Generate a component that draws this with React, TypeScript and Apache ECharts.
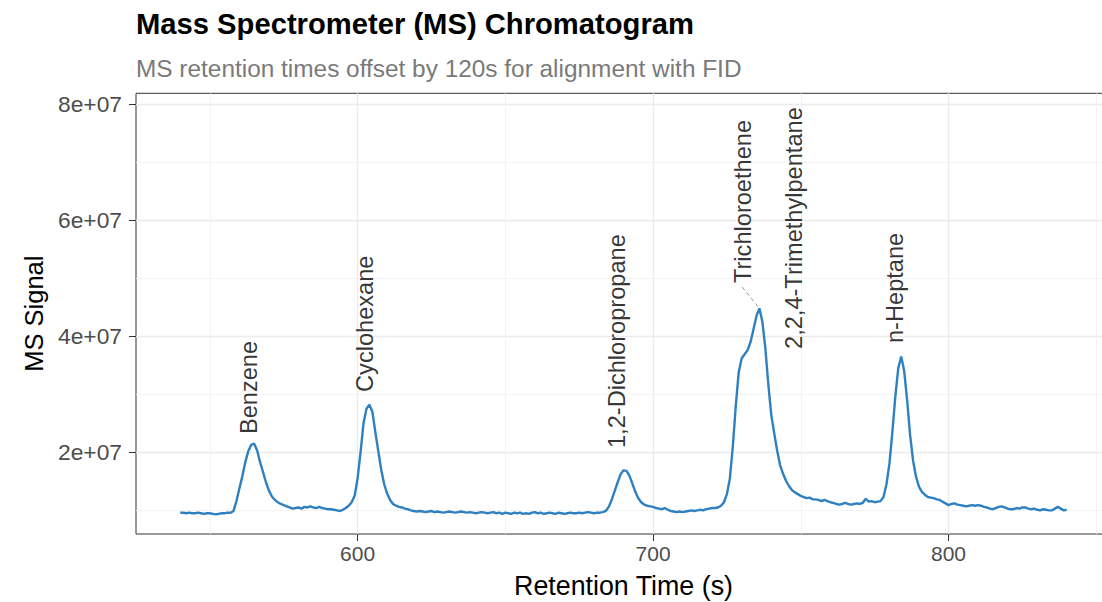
import React, { useEffect, useRef } from "react";
import * as echarts from "echarts";

// Retention time (s) and MS signal (counts)
const retentionTime = [
  540, 541, 542, 543, 544, 545, 546, 547, 548, 549,
  550, 551, 552, 553, 554, 555, 556, 557, 558, 559,
  560, 561, 562, 563, 564, 565, 566, 567, 568, 569,
  570, 571, 572, 573, 574, 575, 576, 577, 578, 579,
  580, 581, 582, 583, 584, 585, 586, 587, 588, 589,
  590, 591, 592, 593, 594, 595, 596, 597, 598, 599,
  600, 601, 602, 603, 604, 605, 606, 607, 608, 609,
  610, 611, 612, 613, 614, 615, 616, 617, 618, 619,
  620, 621, 622, 623, 624, 625, 626, 627, 628, 629,
  630, 631, 632, 633, 634, 635, 636, 637, 638, 639,
  640, 641, 642, 643, 644, 645, 646, 647, 648, 649,
  650, 651, 652, 653, 654, 655, 656, 657, 658, 659,
  660, 661, 662, 663, 664, 665, 666, 667, 668, 669,
  670, 671, 672, 673, 674, 675, 676, 677, 678, 679,
  680, 681, 682, 683, 684, 685, 686, 687, 688, 689,
  690, 691, 692, 693, 694, 695, 696, 697, 698, 699,
  700, 701, 702, 703, 704, 705, 706, 707, 708, 709,
  710, 711, 712, 713, 714, 715, 716, 717, 718, 719,
  720, 721, 722, 723, 724, 725, 726, 727, 728, 729,
  730, 731, 732, 733, 734, 735, 736, 737, 738, 739,
  740, 741, 742, 743, 744, 745, 746, 747, 748, 749,
  750, 751, 752, 753, 754, 755, 756, 757, 758, 759,
  760, 761, 762, 763, 764, 765, 766, 767, 768, 769,
  770, 771, 772, 773, 774, 775, 776, 777, 778, 779,
  780, 781, 782, 783, 784, 785, 786, 787, 788, 789,
  790, 791, 792, 793, 794, 795, 796, 797, 798, 799,
  800, 801, 802, 803, 804, 805, 806, 807, 808, 809,
  810, 811, 812, 813, 814, 815, 816, 817, 818, 819,
  820, 821, 822, 823, 824, 825, 826, 827, 828, 829,
  830, 831, 832, 833, 834, 835, 836, 837, 838, 839,
  840,
];

const msSignal = [
  9.6e6, 9.6e6, 9.5e6, 9.6e6, 9.5e6, 9.5e6, 9.6e6, 9.5e6, 9.4e6, 9.5e6,
  9.5e6, 9.4e6, 9.3e6, 9.4e6, 9.5e6, 9.5e6, 9.6e6, 9.6e6, 9.9e6, 11.6e6,
  13.8e6, 15.9e6, 18.3e6, 20.2e6, 21.3e6, 21.5e6, 20.3e6, 18.3e6, 16.6e6, 14.8e6,
  13.4e6, 12.4e6, 11.8e6, 11.4e6, 11.1e6, 10.9e6, 10.7e6, 10.5e6, 10.3e6, 10.4e6,
  10.5e6, 10.3e6, 10.6e6, 10.5e6, 10.7e6, 10.5e6, 10.4e6, 10.6e6, 10.4e6, 10.3e6,
  10.2e6, 10.2e6, 10.1e6, 10.0e6, 9.9e6, 10.1e6, 10.4e6, 10.8e6, 11.4e6, 12.5e6,
  15.5e6, 20.0e6, 25.0e6, 27.5e6, 28.2e6, 27.0e6, 23.5e6, 20.2e6, 17.0e6, 14.5e6,
  12.9e6, 11.8e6, 11.1e6, 10.8e6, 10.6e6, 10.5e6, 10.3e6, 10.2e6, 10.0e6, 9.9e6,
  9.8e6, 9.9e6, 9.8e6, 9.7e6, 9.8e6, 9.9e6, 9.7e6, 9.8e6, 9.7e6, 9.6e6,
  9.7e6, 9.8e6, 9.7e6, 9.6e6, 9.7e6, 9.8e6, 9.7e6, 9.6e6, 9.7e6, 9.6e6,
  9.5e6, 9.6e6, 9.7e6, 9.6e6, 9.5e6, 9.6e6, 9.7e6, 9.5e6, 9.6e6, 9.4e6,
  9.6e6, 9.5e6, 9.4e6, 9.6e6, 9.5e6, 9.6e6, 9.4e6, 9.5e6, 9.4e6, 9.6e6,
  9.7e6, 9.5e6, 9.6e6, 9.4e6, 9.5e6, 9.6e6, 9.5e6, 9.4e6, 9.6e6, 9.5e6,
  9.4e6, 9.5e6, 9.6e6, 9.5e6, 9.5e6, 9.6e6, 9.5e6, 9.6e6, 9.7e6, 9.6e6,
  9.5e6, 9.6e6, 9.6e6, 9.7e6, 9.9e6, 10.6e6, 11.8e6, 13.3e6, 14.8e6, 16.2e6,
  16.9e6, 16.8e6, 16.0e6, 14.6e6, 13.2e6, 12.1e6, 11.4e6, 11.0e6, 10.8e6, 10.7e6,
  10.6e6, 10.4e6, 10.3e6, 10.2e6, 10.4e6, 10.1e6, 9.9e6, 9.8e6, 9.7e6, 9.8e6,
  9.7e6, 9.8e6, 9.9e6, 10.0e6, 9.9e6, 10.0e6, 10.1e6, 10.0e6, 10.2e6, 10.3e6,
  10.4e6, 10.4e6, 10.5e6, 10.8e6, 11.4e6, 12.8e6, 15.5e6, 21.0e6, 28.0e6, 33.8e6,
  36.2e6, 36.9e6, 37.6e6, 39.0e6, 41.2e6, 43.5e6, 44.8e6, 42.5e6, 38.0e6, 31.8e6,
  26.5e6, 23.3e6, 20.3e6, 17.8e6, 16.3e6, 15.1e6, 14.2e6, 13.5e6, 13.1e6, 12.8e6,
  12.5e6, 12.3e6, 12.1e6, 12.2e6, 11.9e6, 11.9e6, 11.8e6, 11.6e6, 11.8e6, 11.6e6,
  11.4e6, 11.3e6, 11.1e6, 11.0e6, 11.1e6, 11.3e6, 11.1e6, 11.0e6, 11.1e6, 11.2e6,
  11.1e6, 11.3e6, 12.0e6, 11.5e6, 11.6e6, 11.4e6, 11.5e6, 11.6e6, 12.3e6, 14.5e6,
  18.0e6, 23.5e6, 29.6e6, 34.5e6, 36.5e6, 34.0e6, 29.0e6, 23.0e6, 18.6e6, 15.8e6,
  14.1e6, 13.2e6, 12.7e6, 12.3e6, 12.2e6, 12.1e6, 11.9e6, 11.8e6, 11.5e6, 11.2e6,
  10.9e6, 11.1e6, 11.2e6, 11.0e6, 10.9e6, 10.8e6, 10.7e6, 10.8e6, 10.9e6, 10.8e6,
  10.9e6, 10.8e6, 10.6e6, 10.5e6, 10.3e6, 10.2e6, 10.4e6, 10.6e6, 10.7e6, 10.5e6,
  10.3e6, 10.2e6, 10.2e6, 10.4e6, 10.3e6, 10.5e6, 10.5e6, 10.3e6, 10.2e6, 10.3e6,
  10.1e6, 10.0e6, 10.2e6, 10.1e6, 10.0e6, 10.0e6, 10.3e6, 10.6e6, 10.3e6, 10.0e6,
  10.1e6,
];

// Compound labels (placed where the reference draws them)
const compoundNames = [
  "Benzene",
  "Cyclohexane",
  "1,2-Dichloropropane",
  "Trichloroethene",
  "2,2,4-Trimethylpentane",
  "n-Heptane",
];
const labelTime = [563.3, 602.5, 687.9, 730.6, 747.8, 782.0];
const labelSignal = [2.315e7, 3.04e7, 2.074e7, 4.916e7, 3.78e7, 3.883e7];

// Repel connector segment for Trichloroethene
const connectorTime = [730.2, 735.6];
const connectorSignal = [4.848e7, 4.503e7];

// Axes
const xRange = [525, 855];
const yRange = [5.93e6, 8.184e7];
const xMajorTicks = [600, 700, 800];
const xTickLabels = ["600", "700", "800"];
const xMinorGrid = [550, 650, 750, 850];
const yMajorTicks = [2e7, 4e7, 6e7, 8e7];
const yTickLabels = ["2e+07", "4e+07", "6e+07", "8e+07"];
const yMinorGrid = [1e7, 3e7, 5e7, 7e7];

const FONT = "'Liberation Sans', Arial, Helvetica, sans-serif";

export default function App() {
  const ref = useRef<HTMLDivElement>(null);

  useEffect(() => {
    document.body.style.margin = "0";
    if (!ref.current) return;
    const chart = echarts.init(ref.current, undefined, { renderer: "svg" });

    const lineData = retentionTime.map((t, i) => [t, msSignal[i]]);
    const labelData = compoundNames.map((n, i) => ({
      name: n,
      value: [labelTime[i], labelSignal[i]],
    }));
    const connectorData = connectorTime.map((t, i) => [t, connectorSignal[i]]);

    const gridMajor = { color: "#ebebeb", width: 1.3, type: "solid" };
    const gridMinor = { color: "#f2f2f2", width: 0.9, type: "solid" };
    const gridLines = [
      ...yMajorTicks.map((v) => ({ yAxis: v, lineStyle: gridMajor })),
      ...yMinorGrid.map((v) => ({ yAxis: v, lineStyle: gridMinor })),
      ...xMajorTicks.map((v) => ({ xAxis: v, lineStyle: gridMajor })),
      ...xMinorGrid.map((v) => ({ xAxis: v, lineStyle: gridMinor })),
    ];

    const option: any = {
      animation: false,
      backgroundColor: "#ffffff",
      textStyle: { fontFamily: FONT },
      title: [
        {
          text: "Mass Spectrometer (MS) Chromatogram",
          left: 131,
          top: 4,
          textStyle: { fontFamily: FONT, fontSize: 29.2, fontWeight: "bold", color: "#000000" },
        },
        {
          text: "MS retention times offset by 120s for alignment with FID",
          left: 131,
          top: 51,
          textStyle: { fontFamily: FONT, fontSize: 24.4, fontWeight: "normal", color: "#7a7a7a" },
        },
      ],
      grid: {
        left: 136,
        top: 93.3,
        right: -9,
        bottom: 68,
        show: true,
        borderColor: "#333333",
        borderWidth: 1,
        backgroundColor: "transparent",
        containLabel: false,
        outerBoundsMode: "none",
      },
      xAxis: {
        type: "value",
        min: xRange[0],
        max: xRange[1],
        axisLine: { show: false },
        splitLine: { show: false },
        axisTick: {
          show: true,
          customValues: xMajorTicks,
          length: 7,
          lineStyle: { color: "#333333", width: 1 },
        },
        axisLabel: {
          customValues: xMajorTicks,
          formatter: (v: number) => xTickLabels[xMajorTicks.indexOf(v)] ?? String(v),
          fontFamily: FONT,
          fontSize: 21,
          color: "#4d4d4d",
          margin: 9,
        },
        name: "Retention Time (s)",
        nameLocation: "middle",
        nameGap: 38,
        nameTextStyle: { fontFamily: FONT, fontSize: 26.8, color: "#000000" },
      },
      yAxis: {
        type: "value",
        min: yRange[0],
        max: yRange[1],
        axisLine: { show: false },
        splitLine: { show: false },
        axisTick: {
          show: true,
          customValues: yMajorTicks,
          length: 7,
          lineStyle: { color: "#333333", width: 1 },
        },
        axisLabel: {
          customValues: yMajorTicks,
          formatter: (v: number) => yTickLabels[yMajorTicks.indexOf(v)] ?? String(v),
          fontFamily: FONT,
          fontSize: 22.8,
          color: "#4d4d4d",
          margin: 14,
        },
        name: "MS Signal",
        nameLocation: "middle",
        nameRotate: 90,
        nameGap: 84,
        nameTextStyle: { fontFamily: FONT, fontSize: 25.5, color: "#000000" },
      },
      series: [
        {
          type: "line",
          data: [],
          silent: true,
          z: 1,
          markLine: {
            silent: true,
            symbol: ["none", "none"],
            label: { show: false },
            z: 1,
            animation: false,
            data: gridLines,
          },
        },
        {
          type: "line",
          data: lineData,
          showSymbol: false,
          z: 3,
          lineStyle: { color: "#2f80c0", width: 2.4 },
          itemStyle: { color: "#2f80c0" },
        },
        {
          type: "line",
          data: connectorData,
          showSymbol: false,
          z: 3,
          lineStyle: { color: "#9a9a9a", width: 1, type: [4, 3] },
        },
        {
          type: "scatter",
          data: labelData,
          symbolSize: 1,
          itemStyle: { color: "rgba(0,0,0,0)" },
          z: 4,
          label: {
            show: true,
            formatter: "{b}",
            position: "inside",
            rotate: 90,
            align: "left",
            verticalAlign: "middle",
            fontFamily: FONT,
            fontSize: 23.6,
            color: "#000000",
          },
        },
      ],
    };

    chart.setOption(option);
    return () => chart.dispose();
  }, []);

  return <div ref={ref} style={{ width: 1102, height: 602 }} />;
}
